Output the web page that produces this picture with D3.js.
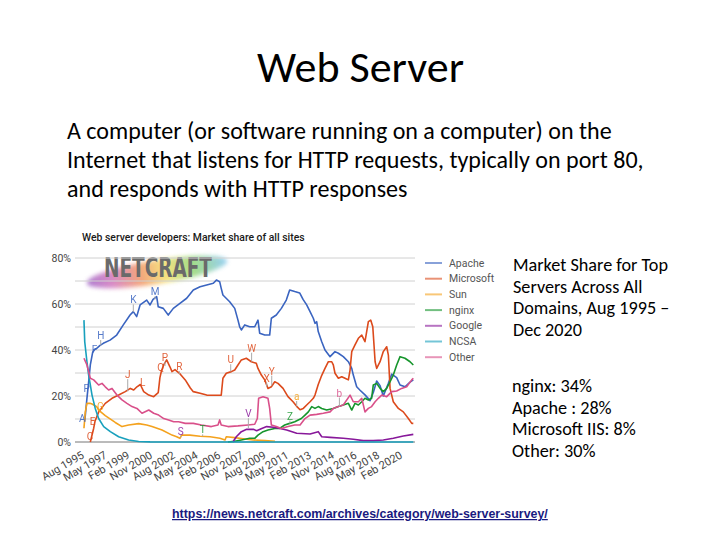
<!DOCTYPE html>
<html><head><meta charset="utf-8">
<script src="https://cdn.jsdelivr.net/npm/d3@7/dist/d3.min.js"></script>
<style>html,body{margin:0;padding:0;background:#fff;}</style>
</head><body>
<script>
// ---------- data ----------
const seriesNames = ["Apache","Microsoft","Sun","nginx","Google","NCSA","Other"];
const seriesColors = ["#3a64c0","#dc4a1c","#f4a21e","#16952c","#88189a","#18a0bd","#d9508a"];

const apache = [[1995.64,9],[1995.81,19],[1995.94,26],[1996.07,33.5],[1996.25,39],[1996.45,40.5],[1996.56,40.7],[1996.82,42],[1997.07,42.9],[1997.59,44.3],[1998.10,46.5],[1998.61,50.9],[1999.13,55.2],[1999.38,56.7],[1999.64,54.5],[1999.90,59.6],[2000.41,61.7],[2000.67,59.6],[2000.90,62],[2001.18,63.2],[2001.30,58.8],[2001.69,58.1],[2002.07,55.2],[2002.46,58.1],[2002.97,60.3],[2003.49,62.5],[2004.00,66.1],[2004.52,67.5],[2005.03,68.3],[2005.54,69],[2005.78,70.4],[2006.03,69.7],[2006.15,66.8],[2006.28,63.9],[2006.80,61],[2007.19,58.1],[2007.44,53],[2007.57,50.1],[2007.70,48.7],[2007.96,50.9],[2008.34,50.1],[2008.73,50.1],[2008.98,53],[2009.11,47.3],[2009.50,46.5],[2009.88,46.5],[2010.01,53.8],[2010.39,55.2],[2010.78,58.1],[2011.16,61.7],[2011.42,66.1],[2011.81,65.4],[2012.19,64.8],[2012.45,62],[2012.73,59.6],[2012.99,56.7],[2013.24,53.8],[2013.37,51.6],[2013.50,52.3],[2013.62,48],[2013.89,43.6],[2014.14,40],[2014.53,37.1],[2014.91,39.3],[2015.17,38.6],[2015.55,37.1],[2015.94,34.9],[2016.20,32],[2016.32,29.1],[2016.58,24],[2016.84,22.5],[2017.22,20.5],[2017.61,18],[2017.86,21.5],[2018.12,26.5],[2018.38,24.5],[2018.63,20],[2019.02,25.5],[2019.28,29.5],[2019.66,28],[2019.92,24.8],[2020.30,24],[2020.69,26],[2020.94,27]];

const microsoft = [[1996.07,0],[1996.33,6],[1996.43,9],[1996.71,13],[1997.22,16.8],[1997.74,19],[1998.25,20.4],[1998.76,21.9],[1999.15,23.3],[1999.41,22.6],[1999.66,24],[1999.92,25],[2000.18,21.9],[2000.57,20.4],[2000.95,19.7],[2001.30,21.5],[2001.43,28],[2001.55,31],[2001.72,33.5],[2001.95,35.7],[2002.20,32.7],[2002.36,30.6],[2002.59,31.5],[2003.00,29.5],[2003.38,27],[2003.77,23.5],[2004.00,21.9],[2004.52,21.2],[2005.03,20.4],[2005.54,20.3],[2006.15,20.4],[2006.28,27.7],[2006.54,29.9],[2006.93,30.6],[2007.19,31.3],[2007.44,33.5],[2007.70,35.7],[2008.08,36.4],[2008.47,34.9],[2008.85,34.2],[2008.98,32],[2009.24,29.1],[2009.50,27],[2009.75,23.3],[2010.01,24],[2010.27,26.2],[2010.52,25.5],[2010.91,23.3],[2011.29,19.7],[2011.68,17.5],[2011.96,15.5],[2012.22,14],[2012.47,14.6],[2012.73,16.1],[2012.99,17.5],[2013.24,19],[2013.37,20.4],[2013.62,25],[2013.89,29],[2014.14,32],[2014.40,34.9],[2014.66,34.9],[2014.78,33.5],[2014.91,29.9],[2015.17,27.7],[2015.43,28.4],[2015.68,27.7],[2015.94,27],[2016.07,31.3],[2016.20,39.3],[2016.45,42.2],[2016.71,45.1],[2016.97,46.5],[2017.22,43.6],[2017.48,52.3],[2017.66,53],[2017.82,50.1],[2018.00,34.9],[2018.12,32],[2018.38,34.9],[2018.63,39.3],[2018.89,41.4],[2019.02,37.8],[2019.15,23.3],[2019.40,17.5],[2019.79,14.6],[2020.17,13.1],[2020.56,10.2],[2020.82,8.1],[2020.94,8.1]];

const sun = [[1995.58,6],[1995.68,13],[1995.81,16.8],[1996.04,16.8],[1996.20,16.5],[1996.56,15.4],[1996.71,13.9],[1997.22,11.5],[1997.99,8.5],[1998.51,6.7],[1999.02,7.4],[1999.79,8],[2000.41,7.4],[2000.82,6.7],[2001.59,5.2],[2002.36,3],[2002.72,2.3],[2002.97,1.6],[2003.10,3],[2003.74,3],[2004.52,2.5],[2005.29,2.3],[2006.05,1.6],[2006.44,0.9],[2006.54,2.3],[2007.19,1.9],[2007.96,1.3],[2008.60,0.9],[2009.52,0.6],[2010.29,0.3]];

const nginx = [[2006.67,0],[2007.19,0.3],[2007.70,0.9],[2008.34,1.6],[2008.73,1.6],[2008.98,3],[2009.37,4.5],[2009.75,5.2],[2010.27,5.9],[2010.65,5.9],[2011.04,7.4],[2011.42,8.1],[2011.81,8.8],[2012.32,10.2],[2012.60,11.7],[2012.86,13.1],[2013.12,15.4],[2013.37,14.6],[2013.62,15.4],[2013.89,14.6],[2014.27,13.9],[2014.78,14.6],[2015.17,15.4],[2015.55,16.1],[2015.94,16.8],[2016.20,13.9],[2016.45,16.8],[2016.71,16.1],[2016.97,17.5],[2017.22,19],[2017.48,18.3],[2017.73,19],[2017.86,24.8],[2018.12,25.5],[2018.38,23.3],[2018.63,21.9],[2018.89,23.3],[2019.15,26.2],[2019.40,29.1],[2019.66,33.5],[2019.92,37.1],[2020.30,36.4],[2020.69,34.9],[2020.94,33.5]];

const google = [[2007.05,0],[2007.31,2.3],[2007.70,4.5],[2008.11,5.5],[2008.62,5.5],[2008.88,4.9],[2009.27,5.9],[2009.65,6.7],[2010.16,6.4],[2010.68,5.9],[2011.19,5.2],[2011.96,3.8],[2012.99,3.5],[2013.62,4.5],[2013.89,2.3],[2014.53,2],[2015.55,1.6],[2016.32,1.2],[2017.09,0.6],[2017.86,0.6],[2018.63,0.9],[2019.40,1.6],[2020.17,2.6],[2020.94,3.3]];

const ncsa = [[1995.58,53],[1995.64,43.6],[1995.81,34.9],[1995.94,29.1],[1996.07,24.8],[1996.20,20.4],[1996.45,14.6],[1996.71,10.2],[1997.10,6.7],[1997.61,4.5],[1998.25,2.3],[1999.02,0.9],[1999.79,0.2],[2000.67,0.05],[2020.94,0]];

const other = [[1995.58,36.4],[1995.81,33.5],[1996.07,27.7],[1996.33,27],[1996.71,24.8],[1996.97,25.5],[1997.22,24],[1997.48,22.6],[1997.74,23.3],[1998.12,20.4],[1998.51,18.3],[1998.89,16.8],[1999.28,15.4],[1999.66,14.6],[2000.05,12.5],[2000.57,13.9],[2000.95,12.5],[2001.33,11.7],[2001.72,10.2],[2002.10,9.6],[2002.49,8.8],[2002.87,8.8],[2003.38,8.1],[2004.00,8.1],[2004.62,7.4],[2005.39,6.7],[2005.90,7.4],[2006.03,9.6],[2006.15,7.4],[2006.67,6.7],[2007.44,7],[2008.21,7.4],[2008.73,7.7],[2008.93,10.2],[2009.03,19],[2009.37,19.7],[2009.75,19],[2009.88,14.6],[2010.01,7.4],[2010.39,6.7],[2010.78,5.9],[2011.29,6.7],[2011.81,7.4],[2012.22,7.4],[2012.60,10.2],[2012.99,11.7],[2013.50,12],[2014.01,12.5],[2014.53,13.1],[2014.78,14.6],[2015.17,15.4],[2015.55,16.1],[2016.07,20.4],[2016.32,17.5],[2016.71,17.5],[2016.97,19],[2017.22,13.1],[2017.48,14.6],[2017.73,15.4],[2018.00,17.5],[2018.25,19],[2018.51,20.4],[2018.89,19.7],[2019.28,21.9],[2019.66,22.2],[2020.04,23.3],[2020.43,24],[2020.82,27],[2020.94,27.7]];

const seriesData = [apache, microsoft, sun, nginx, google, ncsa, other];

const yTicks = [0,20,40,60,80];
const yGrid = [0,10,20,30,40,50,60,70,80];
const xTickLabels = ["Aug 1995","May 1997","Feb 1999","Nov 2000","Aug 2002","May 2004","Feb 2006","Nov 2007","Aug 2009","May 2011","Feb 2013","Nov 2014","Aug 2016","May 2018","Feb 2020"];
const xStart = "Aug 1995", xEnd = "Dec 2020";

const annotations = [
 {t:"A",s:0,x:1995.45,ly:10.5},{t:"P",s:0,x:1995.79,ly:23.5},{t:"F",s:0,x:1996.40,ly:40.5},
 {t:"H",s:0,x:1996.87,ly:46.5,ty:42},{t:"K",s:0,x:1999.38,ly:62,ty:56.5},{t:"M",s:0,x:2001.05,ly:65.5,ty:62},
 {t:"C",s:1,x:1996.04,ly:2.8},{t:"E",s:1,x:1996.25,ly:9},{t:"G",s:2,x:1996.85,ly:15.5},
 {t:"J",s:1,x:1998.95,ly:29.5,ty:22},{t:"L",s:1,x:2000.10,ly:26},{t:"Q",s:1,x:2001.49,ly:32.5},
 {t:"P",s:1,x:2001.82,ly:37,ty:33},{t:"R",s:1,x:2002.92,ly:33,ty:29.5},{t:"S",s:4,x:2003.03,ly:5,ty:2},
 {t:"T",s:3,x:2004.72,ly:5.5,ty:2.5},{t:"U",s:1,x:2006.88,ly:36,ty:30.6},{t:"W",s:1,x:2008.49,ly:41,ty:35},
 {t:"X",s:1,x:2009.65,ly:28,ty:24},{t:"Y",s:1,x:2010.04,ly:31,ty:24.5},{t:"V",s:4,x:2008.24,ly:12.5,ty:6},
 {t:"Z",s:3,x:2011.44,ly:11.5,ty:8},{t:"a",s:2,x:2011.96,ly:20,ty:15.5},{t:"b",s:6,x:2015.25,ly:21.5,ty:15.5}
];

const slideTitle = "Web Server";
const bodyLines = ["A computer (or software running on a computer) on the","Internet that listens for HTTP requests, typically on port 80,","and responds with HTTP responses"];
const sideLines1 = ["Market Share for Top","Servers Across All","Domains, Aug 1995 \u2013","Dec 2020"];
const sideLines2 = ["nginx: 34%","Apache : 28%","Microsoft IIS: 8%","Other: 30%"];
const linkText = "https://news.netcraft.com/archives/category/web-server-survey/";
const chartTitle = "Web server developers: Market share of all sites";

// ---------- helpers ----------
const MON = {Jan:0,Feb:1,Mar:2,Apr:3,May:4,Jun:5,Jul:6,Aug:7,Sep:8,Oct:9,Nov:10,Dec:11};
const dec = s => { const [m,y] = s.split(" "); return +y + MON[m]/12; };

const W = 720, H = 540;
const svg = d3.select("body").append("svg").attr("width",W).attr("height",H)
  .style("display","block").style("font-family","Liberation Sans, Arial, sans-serif");
svg.append("rect").attr("width",W).attr("height",H).attr("fill","#fff");

function fitBlock(sel, refNode, target){
  const w = refNode.getComputedTextLength();
  const fs = parseFloat(d3.select(refNode).attr("font-size"));
  sel.attr("font-size", fs*target/w);
}

// ---------- slide text ----------
const slideFont = "Carlito, Lato, 'Open Sans', sans-serif";
const title = svg.append("text").attr("x",360.5).attr("y",82).attr("text-anchor","middle")
  .attr("font-family",slideFont).attr("font-size",42).attr("fill","#000").text(slideTitle);
fitBlock(title, title.node(), 207);

const body = svg.append("g").selectAll("text").data(bodyLines).join("text")
  .attr("x",67).attr("y",(d,i)=>139+i*29).attr("font-family",slideFont).attr("font-size",20)
  .attr("fill","#000").text(d=>d);
fitBlock(body, body.nodes()[0], 545);

const side1 = svg.append("g").selectAll("text").data(sideLines1).join("text")
  .attr("x",513).attr("y",(d,i)=>271+i*21.7).attr("font-family",slideFont).attr("font-size",15)
  .attr("fill","#000").text(d=>d);
fitBlock(side1, side1.nodes()[0], 155);
const side2 = svg.append("g").selectAll("text").data(sideLines2).join("text")
  .attr("x",512).attr("y",(d,i)=>392+i*21.7).attr("font-family",slideFont).attr("font-size",side1.attr("font-size"))
  .attr("fill","#000").text(d=>d);

const link = svg.append("text").attr("x",172).attr("y",518).attr("font-size",12).attr("font-weight","bold")
  .attr("font-family","Liberation Sans, Arial, sans-serif").attr("fill","#1a1a80")
  .attr("text-decoration","underline").text(linkText);
fitBlock(link, link.node(), 376);

// ---------- chart ----------
const gridX0 = 75, gridX1 = 415;
const x = d3.scaleLinear().domain([dec(xStart), dec(xEnd)]).range([84,413]);
const y = d3.scaleLinear().domain([0,80]).range([442,258]);

const chart = svg.append("g").style("font-family","Roboto, Liberation Sans, Arial, sans-serif");

// logo swoosh
const defs = svg.append("defs");
const grad = defs.append("linearGradient").attr("id","rain").attr("x1","0").attr("x2","1").attr("y1","0").attr("y2","0");
[["0%","#9a5cc4"],["18%","#cf6fb8"],["38%","#f08f5c"],["56%","#f4dc62"],["75%","#8ed46a"],["100%","#7cc4f0"]]
  .forEach(([o,c])=>grad.append("stop").attr("offset",o).attr("stop-color",c));
defs.append("filter").attr("id","blur").attr("x","-20%").attr("y","-60%").attr("width","140%").attr("height","220%")
  .append("feGaussianBlur").attr("stdDeviation",2.2);
chart.append("ellipse").attr("cx",157).attr("cy",272).attr("rx",71).attr("ry",12)
  .attr("transform","rotate(-9,157,272)").attr("fill","url(#rain)").attr("opacity",0.8).attr("filter","url(#blur)");
const logo = chart.append("text").attr("x",0).attr("y",0).attr("font-size",22).attr("font-weight","bold")
  .attr("font-family","DejaVu Sans Condensed, DejaVu Sans, sans-serif").attr("fill","#6a6a6a").text("NETCRAFT");
fitBlock(logo, logo.node(), 108);
{
  const fs = parseFloat(logo.attr("font-size"));
  const k = 19/(0.73*fs);
  logo.attr("transform",`translate(104,277) scale(1,${k})`);
}

// chart title
const ct = chart.append("text").attr("x",82).attr("y",241).attr("font-size",11).attr("font-weight",500)
  .attr("fill","#1a1a1a").text(chartTitle);
fitBlock(ct, ct.node(), 223);

// gridlines
chart.append("g").selectAll("line").data(yGrid).join("line")
  .attr("x1",gridX0).attr("x2",gridX1).attr("y1",d=>y(d)).attr("y2",d=>y(d))
  .attr("stroke",d=>d===0?"#777":"#d0d0d0").attr("stroke-width",1);

// y axis labels
const yAxis = d3.axisLeft(y).tickValues(yTicks).tickFormat(d=>d+"%").tickSize(0).tickPadding(0);
const yg = chart.append("g").attr("transform",`translate(${71},0)`).call(yAxis);
yg.select(".domain").remove();
yg.selectAll("text").attr("font-size",10.5).attr("fill","#444").attr("font-family","Roboto, Liberation Sans, Arial, sans-serif");

// x axis labels
chart.append("g").selectAll("text").data(xTickLabels).join("text")
  .attr("transform",d=>`translate(${x(dec(d))-1},${454}) rotate(-30)`)
  .attr("text-anchor","end").attr("dy","0.35em").attr("font-size",11).attr("fill","#444").text(d=>d);

// lines
const line = d3.line().x(d=>x(d[0])).y(d=>y(d[1]));
chart.append("g").selectAll("path").data(seriesData).join("path")
  .attr("d",line).attr("fill","none").attr("stroke",(d,i)=>seriesColors[i])
  .attr("stroke-width",1.6).attr("stroke-linejoin","round");

// annotations
const ag = chart.append("g");
annotations.forEach(a=>{
  if (a.ty!==undefined) ag.append("line").attr("x1",x(a.x)).attr("x2",x(a.x)).attr("y1",y(a.ly)+5).attr("y2",y(a.ty))
    .attr("stroke","#aaa").attr("stroke-width",1);
  ag.append("text").attr("x",x(a.x)).attr("y",y(a.ly)+4).attr("text-anchor","middle").attr("font-size",10)
    .attr("fill",seriesColors[a.s]).attr("opacity",0.85).text(a.t);
});

// legend
const lg = chart.append("g").selectAll("g").data(seriesNames).join("g")
  .attr("transform",(d,i)=>`translate(425,${263+i*15.7})`);
lg.append("line").attr("x1",0).attr("x2",17).attr("stroke",(d,i)=>seriesColors[i]).attr("stroke-width",2).attr("opacity",0.6);
lg.append("text").attr("x",24).attr("dy","0.35em").attr("font-size",10.5).attr("fill","#555").text(d=>d);
</script>
</body></html>
